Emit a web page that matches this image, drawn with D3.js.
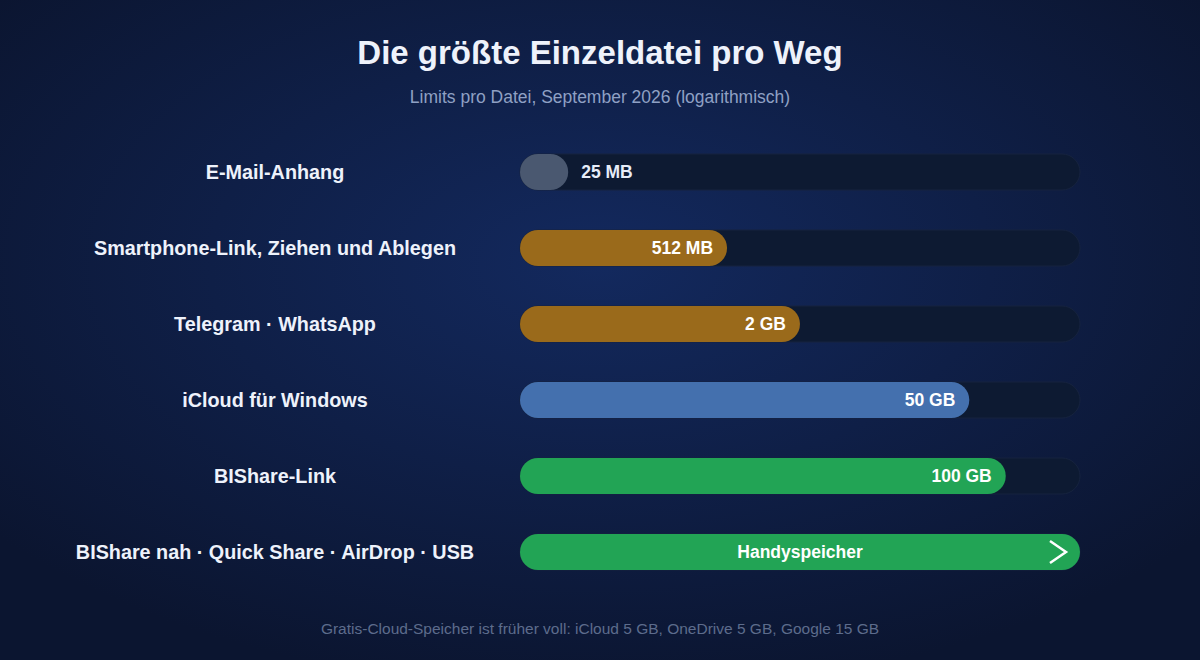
<!DOCTYPE html><html><head><meta charset="utf-8"><script src="https://cdn.jsdelivr.net/npm/d3@7"></script>
<style>body{margin:0;background:#0c1530;}svg{display:block;font-family:"Helvetica Neue",Arial,"Liberation Sans",sans-serif}</style></head><body><svg id="c" width="1200" height="660"></svg>
<script>
const categories=["E-Mail-Anhang","Smartphone-Link, Ziehen und Ablegen","Telegram · WhatsApp","iCloud für Windows","BIShare-Link","BIShare nah · Quick Share · AirDrop · USB"];
const valuesMB=[25,512,2048,51200,102400,420000];
const valueLabels=["25 MB","512 MB","2 GB","50 GB","100 GB","Handyspeicher"];
const colors=["#4a5870","#9a6a1b","#9a6a1b","#4470ae","#22a455","#22a455"];
const svg=d3.select("#c");
const defs=svg.append("defs");
const g=defs.append("radialGradient").attr("id","bg").attr("cx","50%").attr("cy","40%").attr("r","65%");
g.append("stop").attr("offset","0%").attr("stop-color","#13295e");
g.append("stop").attr("offset","100%").attr("stop-color","#0b1530");
svg.append("rect").attr("width",1200).attr("height",660).attr("fill","url(#bg)");
svg.append("text").attr("x",600).attr("y",64).attr("text-anchor","middle").attr("fill","#eef2fb").attr("font-size",33).attr("font-weight","bold").text("Die größte Einzeldatei pro Weg");
svg.append("text").attr("x",600).attr("y",103).attr("text-anchor","middle").attr("fill","#8fa0c4").attr("font-size",17.5).text("Limits pro Datei, September 2026 (logarithmisch)");
const x=d3.scaleLog().domain([10,420000]).range([520,1080]);
const y=d3.scalePoint().domain(categories).range([172,552]);
const h=36;
categories.forEach((c,i)=>{
 const cy=y(c);
 svg.append("text").attr("x",275).attr("y",cy).attr("dy","0.35em").attr("text-anchor","middle").attr("fill","#eef2fb").attr("font-size",19.8).attr("font-weight","bold").text(c);
 svg.append("rect").attr("x",520).attr("y",cy-h/2).attr("width",560).attr("height",h).attr("rx",18).attr("fill","#0d1a32").attr("stroke","#16233f");
 const w=x(valuesMB[i])-520;
 svg.append("rect").attr("x",520).attr("y",cy-h/2).attr("width",Math.max(w,h)).attr("height",h).attr("rx",18).attr("fill",colors[i]);
 const t=svg.append("text").attr("y",cy).attr("dy","0.35em").attr("fill","#ffffff").attr("font-size",17.5).attr("font-weight","bold").text(valueLabels[i]);
 if(i===0) t.attr("x",x(valuesMB[i])+13).attr("fill","#e6ecf8");
 else if(i===5) t.attr("x",800).attr("text-anchor","middle");
 else t.attr("x",x(valuesMB[i])-14).attr("text-anchor","end");
 if(i===5) svg.append("path").attr("d",`M1050,${cy-11}L1066,${cy}L1050,${cy+11}`).attr("fill","none").attr("stroke","#fff").attr("stroke-width",2.5);
});
svg.append("text").attr("x",600).attr("y",634).attr("text-anchor","middle").attr("fill","#5d6c8c").attr("font-size",15.5).text("Gratis-Cloud-Speicher ist früher voll: iCloud 5 GB, OneDrive 5 GB, Google 15 GB");
</script></body></html>
